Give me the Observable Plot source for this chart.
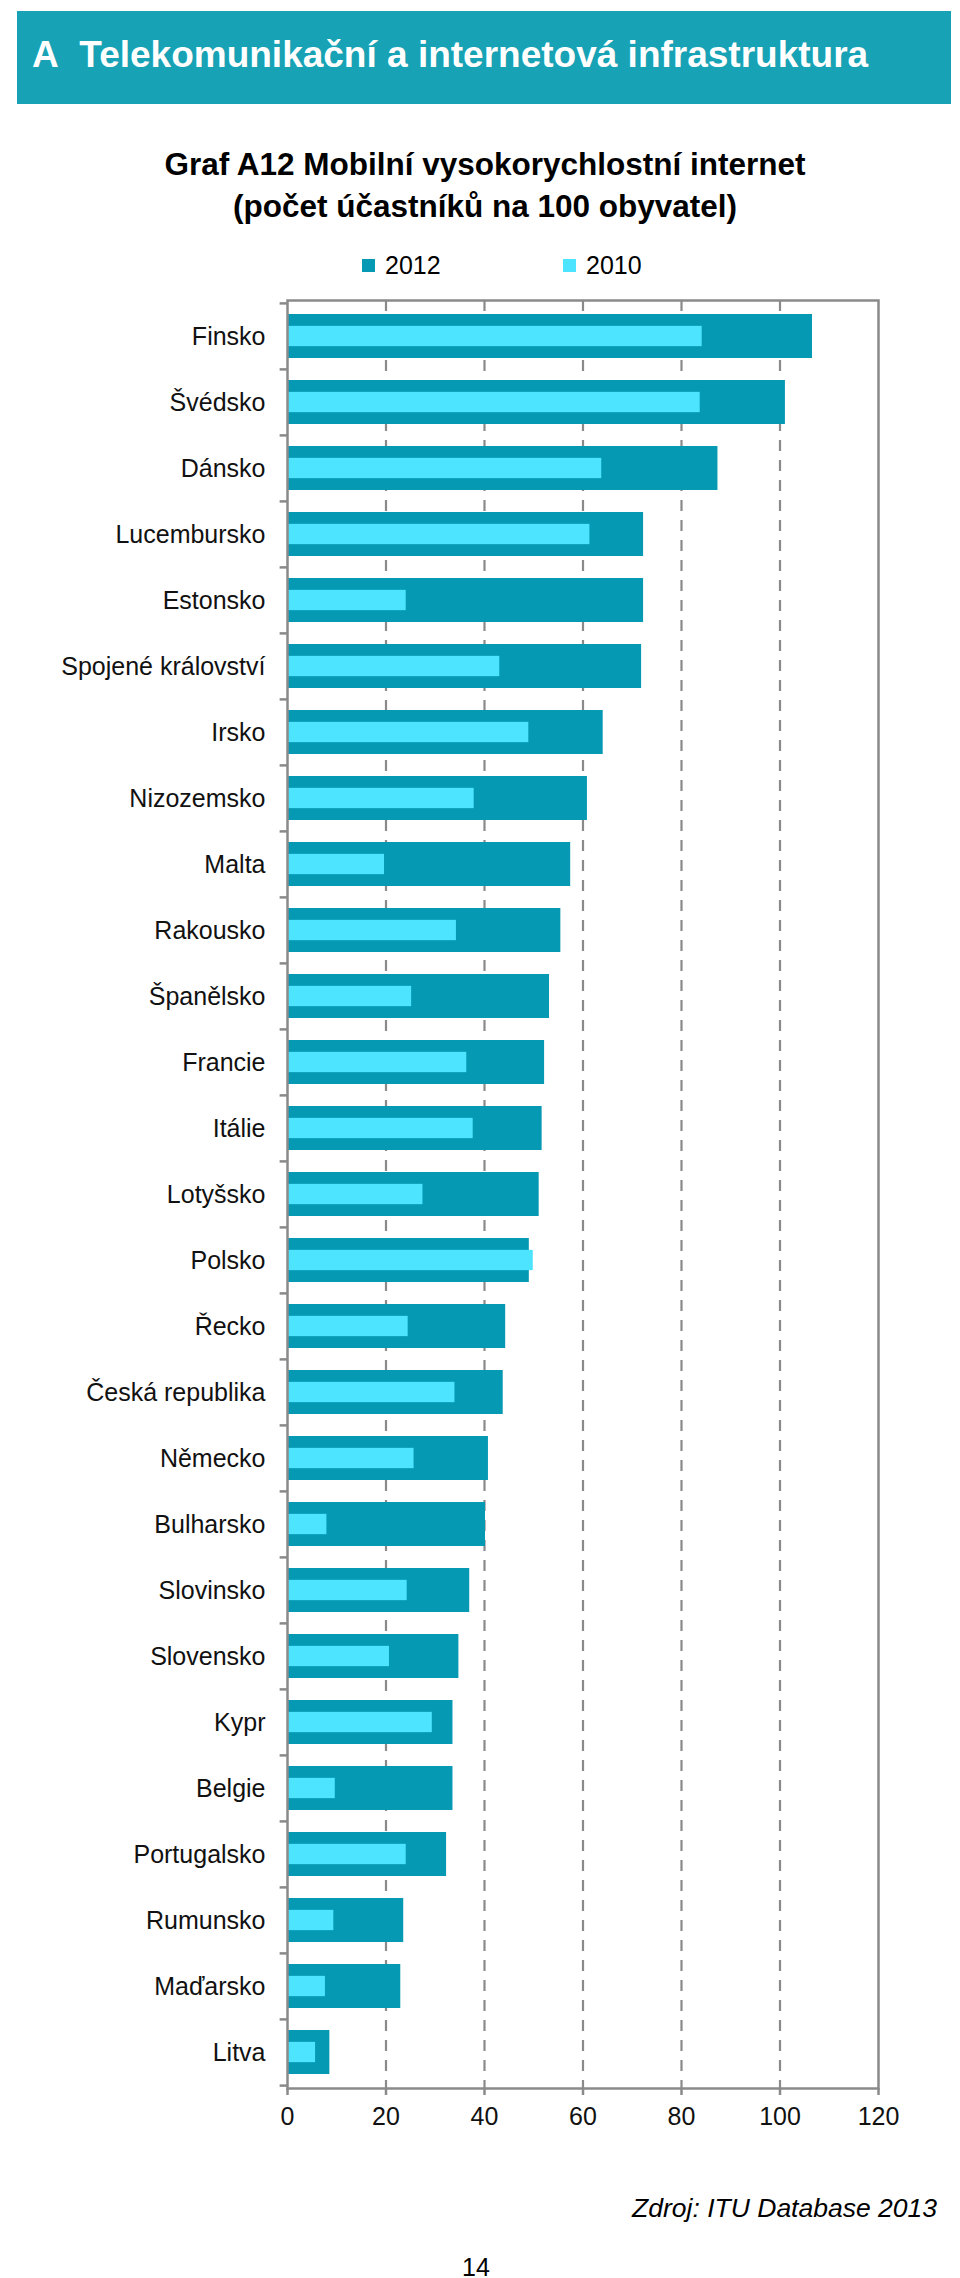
<!DOCTYPE html>
<html>
<head>
<meta charset="utf-8">
<script src="https://cdn.jsdelivr.net/npm/d3@7"></script>
<script src="https://cdn.jsdelivr.net/npm/@observablehq/plot@0.6"></script>
<style>
  html, body { margin: 0; padding: 0; background: #ffffff; }
  body { width: 960px; height: 2278px; position: relative; font-family: "Liberation Sans", Arial, sans-serif; color: #111; }
  .abs { position: absolute; white-space: nowrap; }
  #chart { position: absolute; left: 0; top: 290px; }
</style>
</head>
<body>
<div class="abs" style="left:17px;top:11px;width:934px;height:93px;background:#17a2b5;"></div>
<div class="abs" style="left:32px;top:37px;font-weight:bold;font-size:37px;line-height:36px;color:#ffffff;">A&nbsp;&nbsp;Telekomunikační a internetová infrastruktura</div>
<div class="abs" style="left:5px;top:143px;width:960px;text-align:center;font-weight:bold;font-size:31.5px;line-height:42px;color:#000;">Graf A12 Mobilní vysokorychlostní internet<br>(počet účastníků na 100 obyvatel)</div>
<div id="legend"></div>
<div id="chart"></div>
<div class="abs" style="right:23px;top:2195px;font-style:italic;font-size:26.5px;line-height:26px;color:#000;">Zdroj: ITU Database 2013</div>
<div class="abs" style="left:476px;top:2255px;transform:translateX(-50%);font-size:25px;line-height:24px;color:#000;">14</div>
<script>
const countries = ["Finsko","Švédsko","Dánsko","Lucembursko","Estonsko","Spojené království","Irsko","Nizozemsko","Malta","Rakousko","Španělsko","Francie","Itálie","Lotyšsko","Polsko","Řecko","Česká republika","Německo","Bulharsko","Slovinsko","Slovensko","Kypr","Belgie","Portugalsko","Rumunsko","Maďarsko","Litva"];
const values2012 = [106.6,101.1,87.4,72.3,72.3,71.9,64.1,60.9,57.5,55.5,53.2,52.2,51.7,51.1,49.1,44.3,43.8,40.8,40.2,37.0,34.8,33.6,33.6,32.3,23.6,23.0,8.6];
const values2010 = [84.2,83.8,63.8,61.4,24.1,43.1,49.0,37.9,19.7,34.3,25.2,36.4,37.7,27.5,49.9,24.5,34.0,25.7,8.0,24.3,20.7,29.4,9.7,24.1,9.4,7.7,5.7];
const seriesNames = ["2012","2010"];
const seriesColors = ["#0599b4","#4ce4ff"];
const xTicks = [0,20,40,60,80,100,120];
const gridTicks = [20,40,60,80,100];

const rows = countries.map((c, i) => ({country: c, v2012: values2012[i], v2010: values2010[i]}));

// legend
const legend = document.getElementById("legend");
const legendX = [362, 563];
seriesNames.forEach((name, i) => {
  const sw = document.createElement("div");
  sw.className = "abs";
  sw.style.cssText = `left:${legendX[i]}px;top:259px;width:13px;height:13px;background:${seriesColors[i]};`;
  legend.appendChild(sw);
  const t = document.createElement("div");
  t.className = "abs";
  t.style.cssText = `left:${legendX[i] + 23}px;top:253px;font-size:25px;line-height:24px;color:#000;`;
  t.textContent = name;
  legend.appendChild(t);
});

const W = 960, H = 1850, mT = 10, mB = 52, mL = 287, mR = 82;
const step = (H - mT - mB) / countries.length;
const barInner = 20;
const barOuter = step * (1 - 0.34);
const inset = (barOuter - barInner) / 2;
const gray = "#8a8a8a";

const chart = Plot.plot({
  width: W,
  height: H,
  marginTop: mT,
  marginBottom: mB,
  marginLeft: mL,
  marginRight: mR,
  style: {fontFamily: "Liberation Sans, Arial, sans-serif", fontSize: "25px", background: "transparent", overflow: "visible"},
  x: {domain: [0, 120], label: null},
  y: {domain: countries, paddingInner: 0.34, paddingOuter: 0.17, label: null},
  marks: [
    Plot.ruleX(gridTicks, {stroke: gray, strokeWidth: 2.2, strokeDasharray: "11,9"}),
    Plot.barX(rows, {y: "country", x: "v2012", fill: seriesColors[0]}),
    Plot.barX(rows, {y: "country", x: "v2010", fill: seriesColors[1], insetTop: inset, insetBottom: inset}),
    Plot.frame({stroke: gray, strokeWidth: 2.5}),
    Plot.ruleY(countries, {y: d => d, x1: -1.5, x2: 0, dy: -step / 2, stroke: gray, strokeWidth: 2.5}),
    Plot.ruleY(countries.slice(-1), {y: d => d, x1: -1.5, x2: 0, dy: step / 2, stroke: gray, strokeWidth: 2.5}),
    Plot.axisX(xTicks, {tickSize: 7, tickFormat: () => "", stroke: gray, strokeWidth: 2.5, label: null}),
    Plot.axisX(xTicks, {tickSize: 0, tickPadding: 19, fill: "#111", fontSize: 25, label: null}),
    Plot.axisY({tickSize: 0, tickPadding: 22, fill: "#111", fontSize: 25, label: null})
  ]
});
document.getElementById("chart").appendChild(chart);
</script>
</body>
</html>
